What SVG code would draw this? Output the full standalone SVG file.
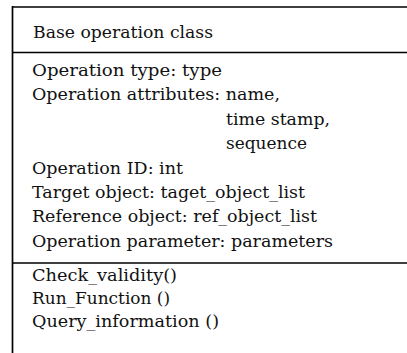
<svg xmlns="http://www.w3.org/2000/svg" width="407" height="353" viewBox="0 0 407 353">
<style>
.t{font-family:"DejaVu Serif","Liberation Serif",serif;font-size:16.5px;fill:#111}
.l{stroke:#000;stroke-width:1.7;fill:none}
</style>
<rect width="407" height="353" fill="#fff"/>
<g id="class-box">
<path class="l" d="M12.5,6 V353 M12,7 H407 M12,52.5 H407 M12,263 H407"/>
</g>
<g id="title">
<text class="t" x="33" y="38" textLength="180" lengthAdjust="spacingAndGlyphs">Base operation class</text>
</g>
<g id="attributes">
<text class="t" x="32" y="76" textLength="190" lengthAdjust="spacingAndGlyphs">Operation type: type</text>
<text class="t" x="32" y="100" textLength="248" lengthAdjust="spacingAndGlyphs">Operation attributes: name,</text>
<text class="t" x="226" y="125" textLength="104" lengthAdjust="spacingAndGlyphs">time stamp,</text>
<text class="t" x="226" y="149" textLength="81" lengthAdjust="spacingAndGlyphs">sequence</text>
<text class="t" x="32" y="174" textLength="151" lengthAdjust="spacingAndGlyphs">Operation ID: int</text>
<text class="t" x="32" y="198" textLength="273" lengthAdjust="spacingAndGlyphs">Target object: taget_object_list</text>
<text class="t" x="32" y="222" textLength="285" lengthAdjust="spacingAndGlyphs">Reference object: ref_object_list</text>
<text class="t" x="32" y="247" textLength="301" lengthAdjust="spacingAndGlyphs">Operation parameter: parameters</text>
</g>
<g id="methods">
<text class="t" x="32" y="281" textLength="145" lengthAdjust="spacingAndGlyphs">Check_validity()</text>
<text class="t" x="32" y="304" textLength="138" lengthAdjust="spacingAndGlyphs">Run_Function ()</text>
<text class="t" x="32" y="327" textLength="187" lengthAdjust="spacingAndGlyphs">Query_information ()</text>
</g>
<g id="connectors"></g>
</svg>
